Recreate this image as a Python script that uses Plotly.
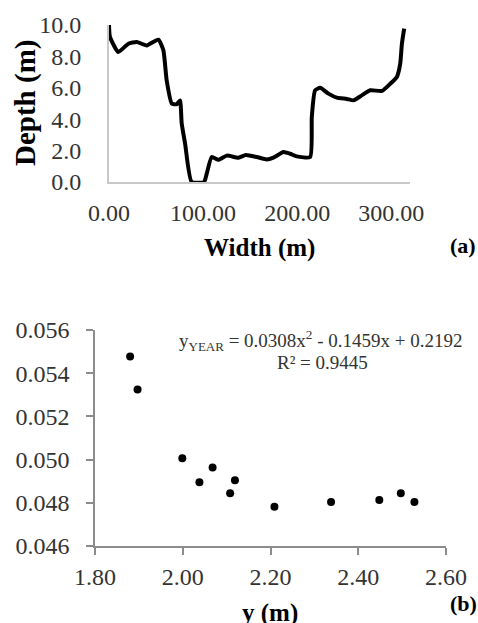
import plotly.graph_objects as go

# (a) cross-section profile
width_m = [0, 1, 9.9, 20.6, 29.4, 40.1, 52.5, 57.8, 61.3, 66.7, 72, 75.5, 77.3, 80.9,
           87.9, 101, 103.9, 109.2, 116.3, 125.2, 137.6, 145.4, 157.1, 167.7, 174.8,
           185.5, 192.6, 199.6, 213.8, 215.6, 219.1, 224.5, 233.3, 242.2, 252.9, 259.9,
           268.8, 277.7, 290.1, 299, 306, 309.6, 311.4, 313.8]
depth_m = [10.0, 9.24, 8.28, 8.81, 8.92, 8.7, 9.07, 8.39, 6.48, 5.0, 4.95, 5.2, 3.72, 2.44,
           0.0, 0.0, 0.53, 1.59, 1.42, 1.68, 1.55, 1.72, 1.59, 1.44, 1.55,
           1.91, 1.80, 1.63, 1.59, 4.14, 5.84, 6.0, 5.63, 5.37, 5.29, 5.2,
           5.52, 5.84, 5.8, 6.26, 6.69, 7.54, 8.81, 9.77]

# (b) scatter
y_m = [1.880, 1.897, 1.999, 2.038, 2.068, 2.108, 2.119, 2.209, 2.338, 2.448, 2.497, 2.528]
coef = [0.05477, 0.05325, 0.05006, 0.04895, 0.04963, 0.04844, 0.04904, 0.04782,
        0.04804, 0.04813, 0.04844, 0.04804]

top_ticks = [0, 2, 4, 6, 8, 10]
top_ticktext = ["0.0", "2.0", "4.0", "6.0", "8.0", "10.0"]
top_xticks = [0, 100, 200, 300]
top_xticktext = ["0.00", "100.00", "200.00", "300.00"]
bot_yticks = [0.046, 0.048, 0.050, 0.052, 0.054, 0.056]
bot_yticktext = ["0.046", "0.048", "0.050", "0.052", "0.054", "0.056"]
bot_xticks = [1.8, 2.0, 2.2, 2.4, 2.6]
bot_xticktext = ["1.80", "2.00", "2.20", "2.40", "2.60"]

FONT = "Liberation Serif, serif"
W, H = 478, 623

fig = go.Figure()
fig.add_trace(go.Scatter(x=width_m, y=depth_m, mode="lines",
                         line=dict(color="black", width=4, shape="spline", smoothing=0.5),
                         xaxis="x", yaxis="y", showlegend=False, hoverinfo="skip"))
fig.add_trace(go.Scatter(x=y_m, y=coef, mode="markers",
                         marker=dict(color="black", size=8),
                         xaxis="x2", yaxis="y2", showlegend=False))

tickfont = dict(family=FONT, size=24, color="#333333")

fig.update_layout(
    width=W, height=H,
    margin=dict(l=0, r=0, t=0, b=0),
    paper_bgcolor="white", plot_bgcolor="white",
    font=dict(family=FONT, color="black"),
    xaxis=dict(domain=[109 / W, 410 / W], range=[0, 320], tickvals=top_xticks,
               ticktext=top_xticktext, showgrid=False, zeroline=False,
               showline=True, linecolor="#c8c8c8", linewidth=2, ticks="",
               tickfont=tickfont, ticklabelstandoff=8, anchor="y", automargin=False),
    yaxis=dict(domain=[1 - 182 / H, 1 - 25 / H], range=[0, 10], tickvals=top_ticks,
               ticktext=top_ticktext, showgrid=False, zeroline=False,
               showline=True, linecolor="#c8c8c8", linewidth=2, ticks="",
               tickfont=tickfont, ticklabelstandoff=21, anchor="x", automargin=False),
    xaxis2=dict(domain=[95 / W, 446 / W], range=[1.8, 2.6], tickvals=bot_xticks,
                ticktext=bot_xticktext, showgrid=False, zeroline=False,
                showline=True, linecolor="#8c8c8c", linewidth=1.5, ticks="outside",
                ticklen=7, tickcolor="#8c8c8c", tickwidth=1.5,
                tickfont=tickfont, ticklabelstandoff=1, anchor="y2", automargin=False),
    yaxis2=dict(domain=[1 - 546 / H, 1 - 330 / H], range=[0.046, 0.056], tickvals=bot_yticks,
                ticktext=bot_yticktext, showgrid=False, zeroline=False,
                showline=True, linecolor="#8c8c8c", linewidth=1.5, ticks="outside",
                ticklen=7, tickcolor="#8c8c8c", tickwidth=1.5,
                tickfont=tickfont, ticklabelstandoff=12, anchor="x2", automargin=False),
)

def ann(text, x, y, size, bold=True, angle=0, color="black"):
    fig.add_annotation(text=f"<b>{text}</b>" if bold else text, x=x / W, y=1 - y / H,
                       xref="paper", yref="paper", showarrow=False, textangle=angle,
                       xanchor="center", yanchor="middle",
                       font=dict(family=FONT, size=size, color=color))

ann("Depth (m)", 25, 103, 29, angle=-90)
ann("Width (m)", 259, 248, 25)
ann("(a)", 463, 245, 22)
ann("y (m)", 270, 613, 25)
ann("(b)", 463, 603, 22)
ann("y<sub><span style='font-size:13px'>YEAR</span></sub> = 0.0308x<sup>2</sup> - 0.1459x + 0.2192",
    321, 340, 19, bold=False, color="#333333")
ann("R² = 0.9445", 322, 362, 19, bold=False, color="#333333")

fig.write_html("out.html", config={"displayModeBar": False},
               post_script="document.body.style.margin='0';")
